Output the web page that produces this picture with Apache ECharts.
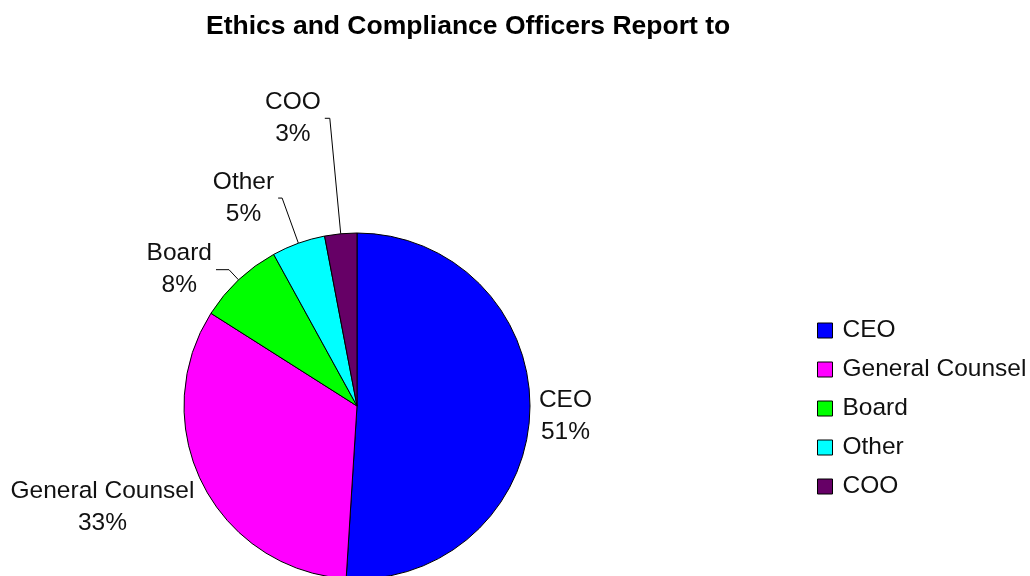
<!DOCTYPE html>
<html>
<head>
<meta charset="utf-8">
<title>Ethics and Compliance Officers Report to</title>
<script src="https://cdn.jsdelivr.net/npm/echarts@6/dist/echarts.min.js"></script>
<style>
  html, body { margin: 0; padding: 0; background: #ffffff; }
  #chart { width: 1030px; height: 576px; }
</style>
</head>
<body>
<div id="chart"></div>
<script>
// Who the ethics and compliance officer reports to (share of respondents, %)
const categories = ['CEO', 'General Counsel', 'Board', 'Other', 'COO'];
const shares = [51, 33, 8, 5, 3];

// Slice colours, in category order
const sliceColors = ['#0000FF', '#FF00FF', '#00FF00', '#00FFFF', '#660066'];

// Leader-line geometry per slice (radial part, horizontal part) and visibility
const leaderLength = [3, 5, 14, 48, 116];
const leaderLength2 = [2, 0, 13, 4, 5];
const leaderVisible = [false, false, true, true, true];
// Extra vertical nudge for labels without a leader line
const labelNudgeY = [5, 20, 0, 0, 0];

const FONT = '"Liberation Sans", Arial, sans-serif';
const TEXT = '#111111';

const seriesData = categories.map((name, i) => ({
  name: name,
  value: shares[i],
  itemStyle: { color: sliceColors[i] },
  labelLine: {
    show: leaderVisible[i],
    length: leaderLength[i],
    length2: leaderLength2[i]
  }
}));

const chart = echarts.init(document.getElementById('chart'), null, { renderer: 'canvas' });

chart.setOption({
  animation: false,
  backgroundColor: '#ffffff',
  title: {
    text: 'Ethics and Compliance Officers Report to',
    left: 206,
    top: 13,
    padding: 0,
    textStyle: {
      fontFamily: FONT,
      fontWeight: 'bold',
      fontSize: 26.5,
      color: '#000000'
    }
  },
  legend: {
    orient: 'vertical',
    left: 817,
    top: 318,
    padding: 0,
    icon: 'rect',
    itemWidth: 15,
    itemHeight: 15,
    itemGap: 14,
    selectedMode: false,
    data: categories,
    itemStyle: { borderColor: '#000000', borderWidth: 1 },
    textStyle: {
      fontFamily: FONT,
      fontSize: 24.5,
      color: TEXT,
      padding: [0, 0, 0, 5]
    }
  },
  series: [{
    type: 'pie',
    center: [357, 406],
    radius: 173,
    startAngle: 90,
    clockwise: true,
    avoidLabelOverlap: false,
    itemStyle: { borderColor: '#000000', borderWidth: 1 },
    emphasis: { disabled: true },
    label: {
      show: true,
      position: 'outside',
      distanceToLabelLine: 4,
      formatter: '{t|{b}}\n{t|{c}%}',
      fontFamily: FONT,
      fontSize: 24.5,
      color: TEXT,
      rich: {
        t: {
          align: 'center',
          fontFamily: FONT,
          fontSize: 24.5,
          lineHeight: 32,
          color: TEXT
        }
      }
    },
    labelLine: {
      smooth: false,
      lineStyle: { color: '#000000', width: 1 }
    },
    labelLayout: function (params) {
      return { dy: labelNudgeY[params.dataIndex] };
    },
    data: seriesData
  }]
});
</script>
</body>
</html>
